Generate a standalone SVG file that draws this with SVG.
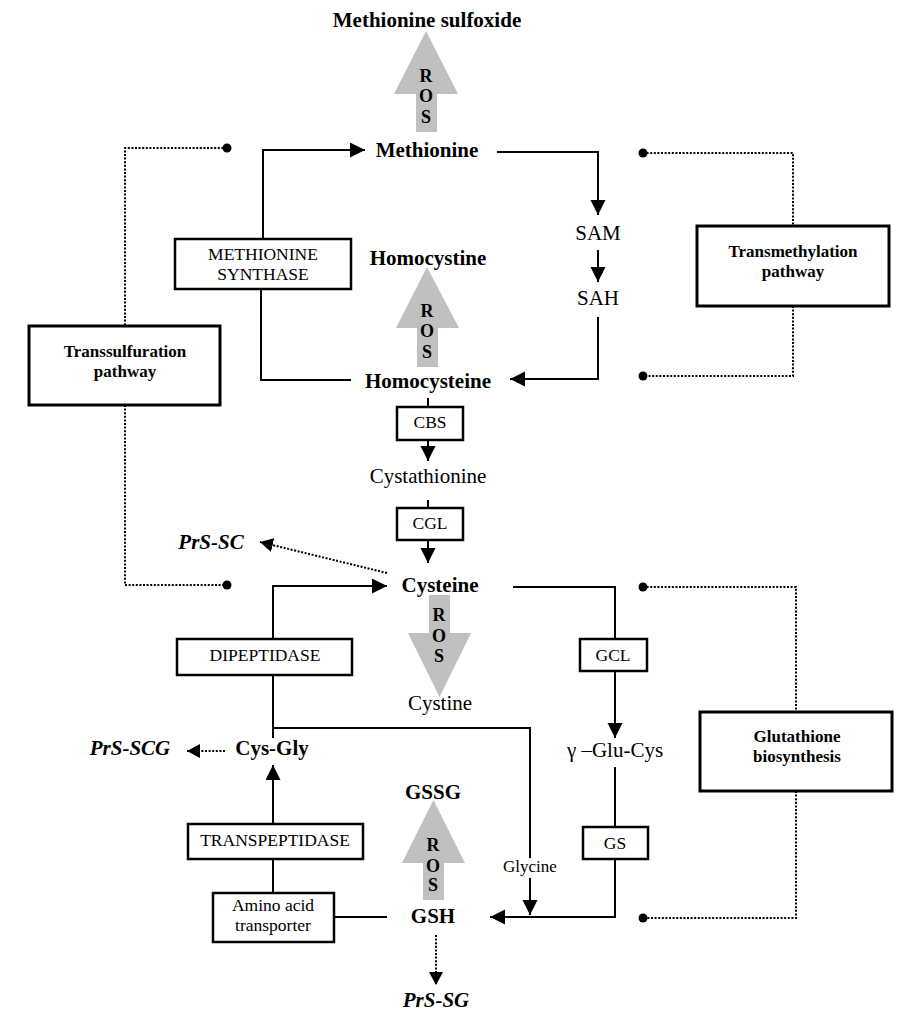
<svg xmlns="http://www.w3.org/2000/svg" width="917" height="1026" viewBox="0 0 917 1026">
<style>
text{font-family:"Liberation Serif","Times New Roman",serif;fill:#000;text-anchor:middle}
.b{font-weight:bold;font-size:21px}
.r{font-size:21px}
.bi{font-weight:bold;font-style:italic;font-size:21px}
.bx{font-size:17.5px}
.pw{font-weight:bold;font-size:17px}
.ros{font-weight:bold;font-size:18px}
.sm{font-size:17px}
.box{fill:#fff;stroke:#000;stroke-width:2.5}
.pbox{fill:#fff;stroke:#000;stroke-width:3}
.ln{fill:none;stroke:#000;stroke-width:2}
.arr{fill:none;stroke:#000;stroke-width:2;marker-end:url(#ah)}
.dot{fill:none;stroke:#000;stroke-width:2;stroke-dasharray:2 1.6}
.darr{fill:none;stroke:#000;stroke-width:2;stroke-dasharray:2 1.6;marker-end:url(#dh)}
.ga{fill:#c0c0c0}
</style>
<defs>
<marker id="ah" markerUnits="userSpaceOnUse" markerWidth="16" markerHeight="16" refX="15" refY="7.5" orient="auto">
<path d="M0,0 L15,7.5 L0,15 Z" fill="#000"/>
</marker>
<marker id="dh" markerUnits="userSpaceOnUse" markerWidth="14" markerHeight="14" refX="13" refY="7" orient="auto">
<path d="M0,0 L13,7 L0,14 Z" fill="#000"/>
</marker>
</defs>

<g id="connectors">
<polyline class="arr" points="263,240 263,150 365,150"/>
<polyline class="ln" points="261,288 261,380 351,380"/>
<polyline class="arr" points="497,152 598,152 598,215"/>
<line class="arr" x1="598" y1="250" x2="598" y2="282"/>
<polyline class="arr" points="598,317 598,379 510,379"/>
<line class="ln" x1="428" y1="398" x2="428" y2="407"/>
<line class="arr" x1="428" y1="440" x2="428" y2="461"/>
<line class="ln" x1="428" y1="500" x2="428" y2="508"/>
<line class="arr" x1="428" y1="540" x2="428" y2="563"/>
<line class="darr" x1="387" y1="573" x2="260" y2="542"/>
<polyline class="arr" points="273,639 273,586 387,586"/>
<line class="ln" x1="273" y1="675" x2="273" y2="738"/>
<polyline class="ln" points="273,728 530,728 530,858"/>
<line class="arr" x1="530" y1="878" x2="530" y2="915"/>
<polyline class="ln" points="513,587 615,587 615,639"/>
<line class="arr" x1="615" y1="671" x2="615" y2="738"/>
<line class="ln" x1="615" y1="767" x2="615" y2="827"/>
<polyline class="arr" points="615,859 615,917 490,917"/>
<line class="darr" x1="225" y1="751" x2="187" y2="751"/>
<line class="arr" x1="273" y1="824" x2="273" y2="765"/>
<line class="ln" x1="273" y1="859" x2="273" y2="893"/>
<line class="ln" x1="334" y1="917" x2="387" y2="917"/>
<line class="darr" x1="436" y1="935" x2="436" y2="985"/>
<polyline class="dot" points="227,148 125,148 125,326"/>
<polyline class="dot" points="125,405 125,585 227,585"/>
<circle cx="227" cy="148" r="4.5" fill="#000"/>
<circle cx="227" cy="585" r="4.5" fill="#000"/>
<polyline class="dot" points="643,153 793,153 793,226"/>
<polyline class="dot" points="793,306 793,376 643,376"/>
<circle cx="643" cy="153" r="4.5" fill="#000"/>
<circle cx="643" cy="376" r="4.5" fill="#000"/>
<polyline class="dot" points="643,587 796,587 796,712"/>
<polyline class="dot" points="796,791 796,918 643,918"/>
<circle cx="643" cy="587" r="4.5" fill="#000"/>
<circle cx="643" cy="918" r="4.5" fill="#000"/>
</g>

<g id="ros-methionine">
<polygon class="ga" points="426,31 458,94 437,94 437,132 416,132 416,94 394,94"/>
<text class="ros" x="426" y="82">R</text>
<text class="ros" x="426" y="102">O</text>
<text class="ros" x="426" y="123">S</text>
</g>
<g id="ros-homocysteine">
<polygon class="ga" points="427,267 459,328 438,328 438,367 417,367 417,328 396,328"/>
<text class="ros" x="427" y="317">R</text>
<text class="ros" x="427" y="337">O</text>
<text class="ros" x="427" y="358">S</text>
</g>
<g id="ros-cysteine">
<polygon class="ga" points="429,595 450,595 450,633 471,633 439.5,697 408,633 429,633"/>
<text class="ros" x="439" y="621">R</text>
<text class="ros" x="439" y="642">O</text>
<text class="ros" x="439" y="662">S</text>
</g>
<g id="ros-gsh">
<polygon class="ga" points="433.5,800 465,863 444,863 444,900 423,900 423,863 402,863"/>
<text class="ros" x="433" y="851">R</text>
<text class="ros" x="433" y="872">O</text>
<text class="ros" x="433" y="891">S</text>
</g>

<g id="methionine-sulfoxide"><text class="b" x="427" y="27">Methionine sulfoxide</text></g>
<g id="methionine"><text class="b" x="427" y="157">Methionine</text></g>
<g id="sam"><text class="r" x="598" y="240">SAM</text></g>
<g id="sah"><text class="r" x="598" y="305">SAH</text></g>
<g id="homocystine"><text class="b" x="428" y="265">Homocystine</text></g>
<g id="homocysteine"><text class="b" x="428" y="388">Homocysteine</text></g>
<g id="methionine-synthase">
<rect class="box" x="175" y="239" width="176" height="50"/>
<text class="bx" x="263" y="260">METHIONINE</text>
<text class="bx" x="263" y="280">SYNTHASE</text>
</g>
<g id="transsulfuration">
<rect class="pbox" x="29" y="326" width="191" height="79"/>
<text class="pw" x="125" y="357">Transsulfuration</text>
<text class="pw" x="125" y="377">pathway</text>
</g>
<g id="transmethylation">
<rect class="pbox" x="697" y="226" width="192" height="80"/>
<text class="pw" x="793" y="257">Transmethylation</text>
<text class="pw" x="793" y="277">pathway</text>
</g>
<g id="cbs">
<rect class="box" x="397" y="407" width="66" height="33"/>
<text class="bx" x="430" y="428">CBS</text>
</g>
<g id="cystathionine"><text class="r" x="428" y="483">Cystathionine</text></g>
<g id="cgl">
<rect class="box" x="397" y="508" width="66" height="32"/>
<text class="bx" x="430" y="529">CGL</text>
</g>
<g id="prs-sc"><text class="bi" x="211" y="549">PrS-SC</text></g>
<g id="cysteine"><text class="b" x="440" y="592">Cysteine</text></g>
<g id="dipeptidase">
<rect class="box" x="177" y="639" width="175" height="36"/>
<text class="bx" x="265" y="661">DIPEPTIDASE</text>
</g>
<g id="cystine"><text class="r" x="440" y="710">Cystine</text></g>
<g id="gcl">
<rect class="box" x="580" y="639" width="67" height="32"/>
<text class="bx" x="613" y="661">GCL</text>
</g>
<g id="glu-cys"><text class="r" x="615" y="757">γ –Glu-Cys</text></g>
<g id="glutathione-biosynthesis">
<rect class="pbox" x="700" y="712" width="192" height="79"/>
<text class="pw" x="797" y="742">Glutathione</text>
<text class="pw" x="797" y="762">biosynthesis</text>
</g>
<g id="cys-gly"><text class="b" x="272" y="755">Cys-Gly</text></g>
<g id="prs-scg"><text class="bi" x="130" y="755">PrS-SCG</text></g>
<g id="gssg"><text class="b" x="433" y="799">GSSG</text></g>
<g id="transpeptidase">
<rect class="box" x="188" y="824" width="175" height="35"/>
<text class="bx" x="275" y="846">TRANSPEPTIDASE</text>
</g>
<g id="gs">
<rect class="box" x="583" y="827" width="65" height="32"/>
<text class="bx" x="615" y="849">GS</text>
</g>
<g id="glycine"><text class="sm" x="530" y="872">Glycine</text></g>
<g id="amino-acid-transporter">
<rect class="box" x="213" y="893" width="121" height="49"/>
<text class="bx" x="273" y="911">Amino acid</text>
<text class="bx" x="273" y="931">transporter</text>
</g>
<g id="gsh"><text class="b" x="433" y="923">GSH</text></g>
<g id="prs-sg"><text class="bi" x="436" y="1007">PrS-SG</text></g>
</svg>
